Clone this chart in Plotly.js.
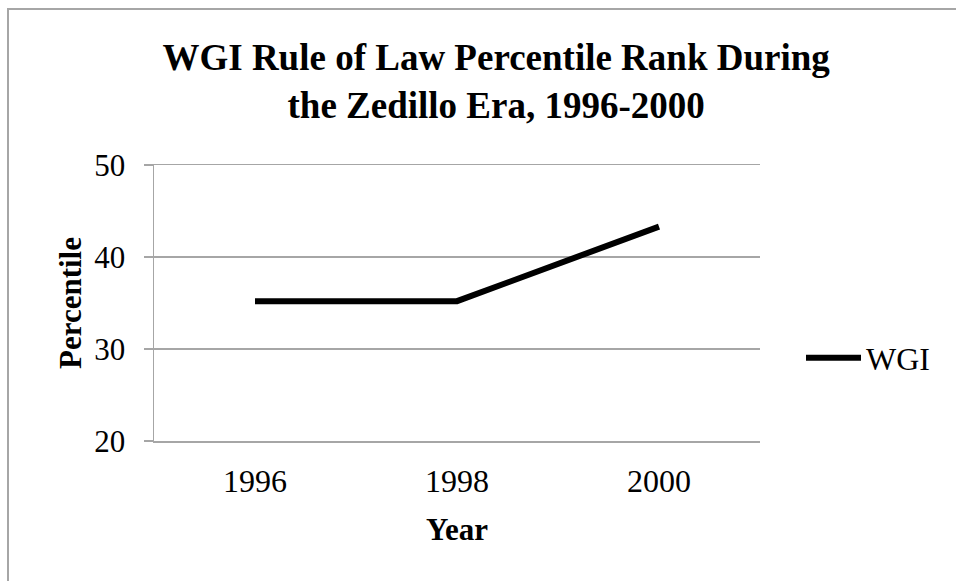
<!DOCTYPE html>
<html>
<head>
<meta charset="utf-8">
<script src="https://cdn.plot.ly/plotly-3.0.1.min.js"></script>
<style>
  html, body { margin: 0; padding: 0; background: #fff; }
  #wrap { position: relative; width: 956px; height: 581px; overflow: hidden; }
  #chart { position: absolute; left: 0; top: 0; width: 956px; height: 581px; }
  #frame { position: absolute; left: 7px; top: 8px; width: 960px; height: 600px;
           border-left: 2px solid #a6a6a6; border-top: 2px solid #a6a6a6; pointer-events: none; }
</style>
</head>
<body>
<div id="wrap">
  <div id="chart"></div>
  <div id="frame"></div>
</div>
<script>
const years = ["1996", "1998", "2000"];
const wgiValues = [35.2, 35.2, 43.3];
const seriesName = "WGI";
const yTicks = [20, 30, 40, 50];

const serif = "Liberation Serif";
const grid = "#a6a6a6";

const trace = {
  x: years,
  y: wgiValues,
  type: "scatter",
  mode: "lines",
  name: seriesName,
  line: { color: "#000000", width: 6 },
  showlegend: true
};

const layout = {
  width: 956,
  height: 581,
  paper_bgcolor: "rgba(0,0,0,0)",
  plot_bgcolor: "rgba(0,0,0,0)",
  margin: { l: 154, r: 196, t: 165, b: 140, pad: 0 },
  font: { family: serif, color: "#000", size: 32 },
  title: {
    text: "<b>WGI Rule of Law Percentile Rank During<br>the Zedillo Era, 1996-2000</b>",
    font: { family: serif, size: 37, color: "#000" },
    xref: "container", yref: "container",
    x: 0.519, xanchor: "center",
    y: 1 - 70 / 581, yanchor: "middle"
  },
  xaxis: {
    type: "category",
    range: [-0.5, 2.5],
    showgrid: false,
    zeroline: false,
    showline: true,
    mirror: true,
    linecolor: grid,
    linewidth: 1.5,
    ticks: "",
    ticklabelstandoff: 11,
    tickfont: { family: serif, size: 32, color: "#000" },
    title: { text: "<b>Year</b>", font: { family: serif, size: 31, color: "#000" }, standoff: 20 }
  },
  yaxis: {
    range: [20, 50],
    tickvals: yTicks,
    ticktext: yTicks.map(String),
    showgrid: true,
    gridcolor: grid,
    gridwidth: 1.5,
    zeroline: false,
    showline: true,
    linecolor: grid,
    linewidth: 1.5,
    ticks: "outside",
    ticklen: 9,
    tickwidth: 1.5,
    tickcolor: grid,
    ticklabelstandoff: 12,
    tickfont: { family: serif, size: 31, color: "#000" },
    title: { text: "<b>Percentile</b>", font: { family: serif, size: 31, color: "#000" }, standoff: 3 }
  },
  legend: {
    x: (801 - 154) / 606,
    xanchor: "left",
    y: (441 - 358) / 276,
    yanchor: "middle",
    font: { family: serif, size: 32, color: "#000" },
    bgcolor: "rgba(0,0,0,0)",
    itemwidth: 55
  },
  showlegend: true
};

Plotly.newPlot("chart", [trace], layout, { displayModeBar: false, staticPlot: true });
</script>
</body>
</html>
